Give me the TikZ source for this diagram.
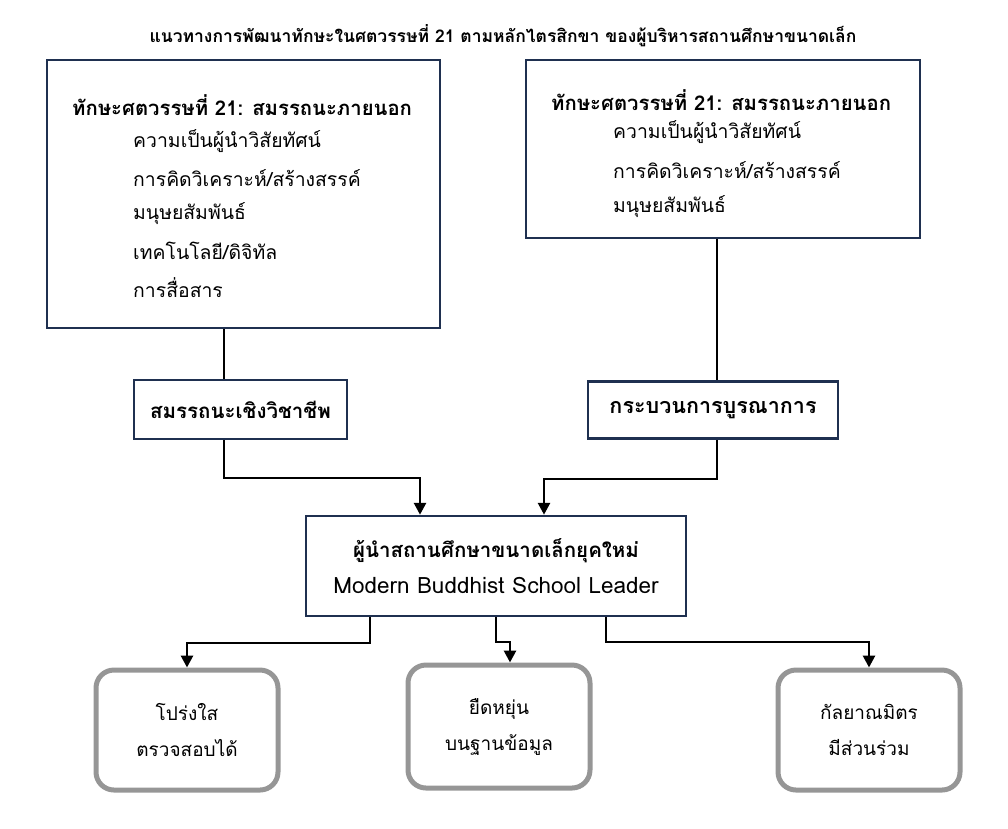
\documentclass[tikz,border=0pt]{standalone}
\usepackage{fontspec}
\setmainfont[Script=Thai]{Loma}
\usepackage{xcolor}
\usepackage{tikz}
\usetikzlibrary{positioning,calc,arrows.meta}

\definecolor{navyline}{HTML}{1F3050}
\definecolor{softgray}{HTML}{969696}

\begin{document}
\begin{tikzpicture}[x=1pt,y=-1pt,
		framebox/.style={draw=navyline,line width=2.5pt,fill=white,inner sep=0pt},
		softbox/.style={draw=softgray,line width=5pt,rounded corners=18pt,minimum width=182pt,minimum height=120pt,align=center,font=\fontsize{19}{36}\selectfont},
		link/.style={line width=2.8pt,-{Triangle[width=12pt,length=12pt]}},
		plain/.style={line width=2.8pt},
		head/.style={anchor=west,inner sep=0pt,font=\bfseries\fontsize{20.3}{24}\selectfont},
		item/.style={anchor=west,inner sep=0pt,font=\fontsize{19.4}{24}\selectfont}]
		\useasboundingbox (0,0) rectangle (1008,828);
		
		\node[inner sep=0pt,font=\bfseries\fontsize{17.5}{20}\selectfont] (title) at (503,36) {แนวทางการพัฒนาทักษะในศตวรรษที่ 21 ตามหลักไตรสิกขา ของผู้บริหารสถานศึกษาขนาดเล็ก};
		
		% top boxes
		\node[framebox,minimum width=393pt,minimum height=268pt] (lefttop) at (243.5,194) {};
		\node[framebox,minimum width=394pt,minimum height=178pt] (righttop) at (723,149) {};
		
		\node[head] (lhead) at (72,105) {ทักษะศตวรรษที่ 21: สมรรถนะภายนอก};
		\node[item] (l1) at (133,141) {ความเป็นผู้นำวิสัยทัศน์};
		\node[item] (l2) at (133,178) {การคิดวิเคราะห์/สร้างสรรค์};
		\node[item] (l3) at (133,214) {มนุษยสัมพันธ์};
		\node[item] (l4) at (133,251) {เทคโนโลยี/ดิจิทัล};
		\node[item] (l5) at (133,288) {การสื่อสาร};
		
		\node[head] (rhead) at (551,100) {ทักษะศตวรรษที่ 21: สมรรถนะภายนอก};
		\node[item] (r1) at (613,132) {ความเป็นผู้นำวิสัยทัศน์};
		\node[item] (r2) at (613,170) {การคิดวิเคราะห์/สร้างสรรค์};
		\node[item] (r3) at (613,207) {มนุษยสัมพันธ์};
		
		% middle boxes
		\node[framebox,minimum width=213pt,minimum height=59pt,font=\bfseries\fontsize{20.5}{24}\selectfont] (leftmid) at (240.5,409.5) {สมรรถนะเชิงวิชาชีพ};
		\node[framebox,minimum width=250pt,minimum height=57pt,font=\bfseries\fontsize{21.5}{24}\selectfont] (rightmid) at (713,410) {กระบวนการบูรณาการ};
		
		\node[framebox,minimum width=380pt,minimum height=100pt,align=center,font=\fontsize{22.5}{36}\selectfont] (leader) at (496,566) {{\bfseries\fontsize{20.5}{36}\selectfont ผู้นำสถานศึกษาขนาดเล็กยุคใหม่}\\Modern Buddhist School Leader};
		
		% bottom boxes
		\node[softbox] (clear) at (187,730) {โปร่งใส\\ตรวจสอบได้};
		\node[softbox,minimum height=123pt] (flex) at (499,726.5) {ยืดหยุ่น\\บนฐานข้อมูล};
		\node[softbox] (friend) at (869,730) {กัลยาณมิตร\\มีส่วนร่วม};
		
		% connectors
		\coordinate (lx) at (224,0);
		\coordinate (rx) at (717,0);
		\coordinate (ljoin) at (420,478);
		\coordinate (rjoin) at (544,479);
		\coordinate (s1) at (370,643);
		\coordinate (s2) at (496,642);
		\coordinate (t2) at (510,0);
		\coordinate (s3) at (606,642);
		
		\draw[plain] (lefttop.south -| lx) -- (leftmid.north -| lx);
		\draw[plain] (righttop.south -| rx) -- (rightmid.north -| rx);
		\draw[link] (leftmid.south -| lx) |- (ljoin) -- (leader.north -| ljoin);
		\draw[link] (rightmid.south -| rx) |- (rjoin) -- (leader.north -| rjoin);
		
		\draw[link] (leader.south -| s1) |- (clear.north |- s1) -- (clear.north);
		\draw[link] (leader.south -| s2) |- (t2 |- s2) -- (flex.north -| t2);
		\draw[link] (leader.south -| s3) |- (friend.north |- s3) -- (friend.north);
	\end{tikzpicture}
\end{document}
